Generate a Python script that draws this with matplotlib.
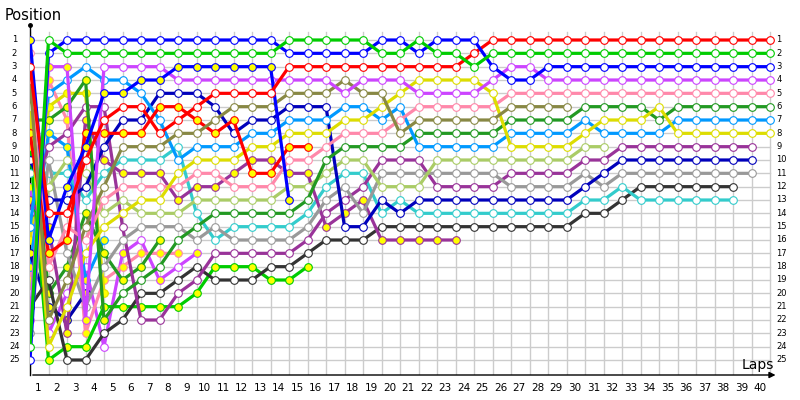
import numpy as np
import matplotlib.pyplot as plt

# position per lap (index 0 = starting grid); a list stops when the car retires
red = [3, 14, 14, 10, 7, 6, 6, 8, 7, 6, 5, 5, 5, 5, 3, 3, 3, 3, 3, 3, 3, 3, 3, 3, 2,
       1, 1, 1, 1, 1, 1, 1, 1, 1, 1, 1, 1, 1, 1, 1, 1]
green = [24, 1, 2, 2, 2, 2, 2, 2, 2, 2, 2, 2, 2, 2, 1, 1, 1, 1, 1, 2, 2, 1, 2, 2, 3,
         2, 2, 2, 2, 2, 2, 2, 2, 2, 2, 2, 2, 2, 2, 2, 2]
blue = [25, 2, 1, 1, 1, 1, 1, 1, 1, 1, 1, 1, 1, 1, 2, 2, 2, 2, 2, 1, 1, 2, 1, 1, 1,
        3, 4, 4, 3, 3, 3, 3, 3, 3, 3, 3, 3, 3, 3, 3, 3]
violet = [22, 3, 3, 22, 3, 3, 3, 3, 4, 4, 4, 4, 4, 4, 4, 4, 4, 5, 4, 4, 4, 5, 5, 5, 5,
          4, 3, 3, 4, 4, 4, 4, 4, 4, 4, 4, 4, 4, 4, 4, 4]
pink = [2, 18, 15, 16, 13, 12, 12, 12, 12, 11, 11, 12, 12, 12, 10, 10, 9, 8, 8, 8, 7,
        6, 6, 6, 6, 6, 5, 5, 5, 5, 5, 5, 5, 5, 5, 5, 5, 5, 5, 5, 5]
dark_green = [7, 7, 6, 4, 22, 20, 19, 18, 16, 15, 14, 14, 14, 14, 14, 13, 10, 9, 9, 9, 9,
              8, 8, 8, 8, 8, 7, 7, 7, 7, 6, 6, 6, 6, 7, 6, 6, 6, 6, 6, 6]
light_blue = [15, 5, 4, 3, 4, 4, 5, 7, 10, 9, 9, 9, 8, 8, 7, 7, 7, 6, 6, 7, 6,
              9, 9, 9, 9, 9, 8, 8, 8, 8, 7, 8, 8, 8, 8, 7, 7, 7, 7, 7, 7]
yellow = [6, 24, 21, 17, 15, 14, 13, 13, 11, 10, 10, 10, 9, 9, 8, 8, 8, 7, 7, 6, 5,
          4, 4, 4, 4, 5, 9, 9, 9, 9, 8, 7, 7, 7, 6, 8, 8, 8, 8, 8, 8]
purple = [14, 9, 8, 6, 6, 15, 22, 22, 20, 19, 17, 17, 17, 17, 17, 16, 14, 13, 12, 10,
          10, 10, 12, 12, 12, 12, 11, 11, 11, 11, 10, 10, 9, 9, 9, 9, 9, 9, 9, 9]
dark_blue = [10, 13, 13, 12, 9, 7, 7, 5, 5, 5, 6, 8, 7, 7, 6, 6, 6, 15, 15, 13,
             14, 13, 13, 13, 13, 13, 13, 13, 13, 13, 12, 11, 10, 10, 10, 10, 10, 10, 10, 10]
grey = [23, 10, 17, 21, 18, 16, 15, 15, 15, 16, 15, 16, 16, 16, 16, 15, 13, 12, 14, 11,
        11, 11, 11, 11, 11, 11, 12, 12, 12, 12, 11, 12, 11, 11, 11, 11, 11, 11, 11, 11]
black = [21, 19, 25, 25, 23, 22, 20, 20, 19, 18, 19, 19, 19, 18, 18, 17, 16, 16, 16,
         15, 15, 15, 15, 15, 15, 15, 15, 15, 15, 15, 14, 14, 13, 12, 12, 12, 12, 12, 12]
cyan = [11, 11, 11, 13, 11, 10, 10, 10, 9, 14, 16, 15, 15, 15, 15, 14, 12, 11, 11,
        14, 13, 14, 14, 14, 14, 14, 14, 14, 14, 14, 13, 13, 12, 13, 13, 13, 13, 13, 13]
light_green = [20, 12, 10, 11, 14, 13, 14, 14, 14, 13, 13, 13, 13, 13, 12, 12, 11, 10,
               10, 12, 12, 12, 10, 10, 10, 10, 10, 10, 10, 10, 9, 9]
olive = [4, 22, 19, 15, 12, 9, 9, 9, 8, 8, 7, 6, 6, 6, 5, 5, 5, 4, 5, 5, 8,
         7, 7, 7, 7, 7, 6, 6, 6, 6]
purple_y = [13, 15, 23, 7, 10, 11, 11, 11, 13, 12, 12, 11, 10, 10, 11, 11, 15, 14, 13,
            16, 16, 16, 16, 16]
blue_y = [1, 16, 12, 9, 5, 5, 4, 4, 3, 3, 3, 3, 3, 3, 13]
red_y = [8, 17, 16, 8, 8, 8, 8, 6, 6, 7, 8, 7, 11, 11, 9, 9]
green_y = [9, 25, 24, 24, 21, 21, 21, 21, 21, 20, 18, 18, 18, 19, 19, 18]
dark_blue_y = [17, 21, 22, 20]
violet_y = [12, 23, 20, 18, 24, 17, 16, 19, 18, 17]
pink_y = [19, 4, 7, 23, 19, 18, 17, 17, 17]
yellow_y = [16, 6, 5, 5, 20]
light_blue_y = [18, 8, 9, 19, 16]
dark_green_y = [5, 20, 18, 14, 17, 19, 18, 16]

# laps drawn with a yellow marker
violet_yl = [0, 1, 2, 3]
dark_green_yl = [0, 1, 2, 3, 4]
violet_y_yl = [0, 5, 7, 9]

drivers = [
    (violet_y, '#cc44ff', violet_y_yl),
    (pink_y, '#ff88aa', None),
    (yellow_y, '#dddd00', None),
    (light_blue_y, '#0099ff', None),
    (dark_green_y, '#229922', None),
    (dark_blue_y, '#0000aa', None),
    (green_y, '#00cc00', None),
    (black, '#333333', []),
    (cyan, '#33cccc', []),
    (purple_y, '#993399', None),
    (purple, '#993399', []),
    (grey, '#999999', []),
    (light_green, '#aacc66', []),
    (dark_blue, '#0000bb', []),
    (dark_green, '#229922', dark_green_yl),
    (light_blue, '#0099ff', []),
    (pink, '#ff88aa', []),
    (yellow, '#dddd00', []),
    (red_y, '#ff0000', None),
    (olive, '#888844', []),
    (violet, '#cc44ff', violet_yl),
    (blue_y, '#0000ff', None),
    (red, '#ff0000', []),
    (blue, '#0000ff', []),
    (green, '#00cc00', []),
]

fig = plt.figure(figsize=(8, 4), dpi=100)
ax = fig.add_axes([30 / 800, 25 / 400, 750 / 800, 350 / 400])
ax.set_xlim(0, 750 / 18.5)
ax.set_ylim(26.125, -0.125)
ax.axis('off')

# grid
for k in range(41):
    ax.plot([k, k], [0.4, 26.125], color='#cccccc', lw=1, zorder=1)
for p in range(1, 26):
    ax.plot([0, 40], [p, p], color='#cccccc', lw=1, zorder=1)

# axes with arrows
ax.plot([0, 0], [26.125, -0.125], color='black', lw=1, zorder=5, clip_on=False)
ax.plot([0], [-0.125], 'o', color='black', ms=2.5, zorder=5, clip_on=False)
ax.annotate('', xy=(40.45, 26.125), xytext=(0, 26.125),
            arrowprops=dict(arrowstyle='-|>', color='black', lw=1, mutation_scale=9),
            zorder=5, annotation_clip=False)

for i, (pos, col, yl) in enumerate(drivers):
    x = np.arange(len(pos))
    pos = np.array(pos)
    z = 10 + i
    ax.plot(x, pos, color=col, lw=2.3, zorder=z, solid_joinstyle='round')
    if yl is None:
        yel = np.ones(len(pos), bool)
    else:
        yel = np.isin(x, yl)
    ax.plot(x[~yel], pos[~yel], 'o', ms=5.5, mfc='white', mec=col, mew=0.8, zorder=z + 0.5)
    ax.plot(x[yel], pos[yel], 'o', ms=5.5, mfc='#ffff00', mec=col, mew=0.8, zorder=z + 0.5)

# tick labels
for p in range(1, 26):
    ax.text(-0.85, p, str(p), ha='center', va='center', fontsize=6, clip_on=False)
    ax.text(40.35, p, str(p), ha='left', va='center', fontsize=6, clip_on=False)
for k in range(1, 41):
    ax.text(k - 0.55, 27.1, str(k), ha='center', va='center', fontsize=7.5, clip_on=False)

fig.text(5 / 800, 1 - 16 / 400, 'Position', ha='left', va='center', fontsize=10.5)
fig.text(742 / 800, 1 - 365 / 400, 'Laps', ha='left', va='center', fontsize=10)

fig.savefig('out.png', dpi=100)
